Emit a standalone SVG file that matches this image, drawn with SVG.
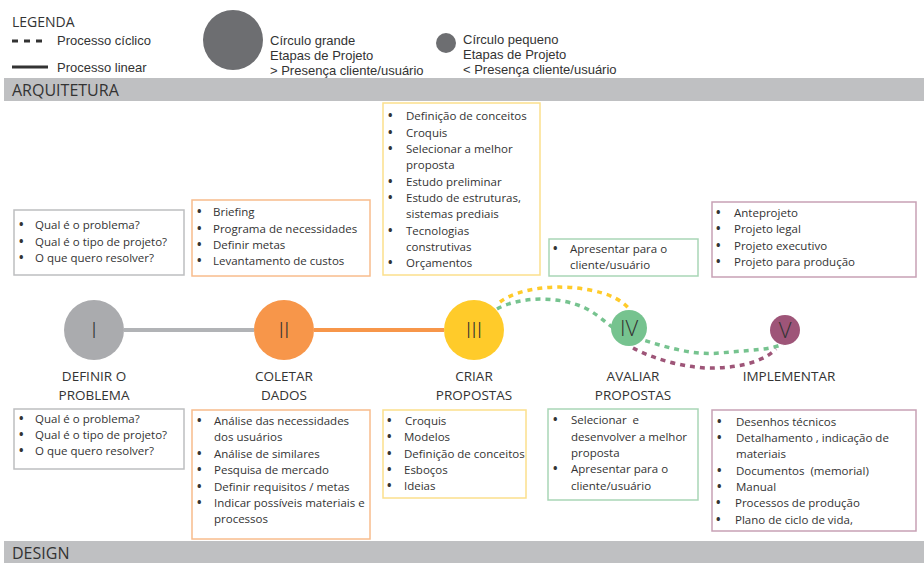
<svg xmlns="http://www.w3.org/2000/svg" width="924" height="563" viewBox="0 0 924 563">
<style>
.leg{font-family:"Liberation Sans",Arial,sans-serif;font-size:13px;fill:#333}
.hd{font-family:"Open Sans","Noto Sans",sans-serif;font-size:16px;fill:#333}
.t{font-family:"Open Sans","Noto Sans",sans-serif;font-size:11.5px;fill:#333}
.b{font-weight:bold;font-size:12px}
.lb{font-family:"Open Sans","Noto Sans",sans-serif;font-size:13.5px;fill:#333;text-anchor:middle}
.num{font-family:"Open Sans","Noto Sans",sans-serif;font-size:22px;font-weight:300;fill:#333;text-anchor:middle}
.band{fill:#BFC0C2}
.box{fill:#fff;stroke-width:1.5}
.gy{stroke:#BDBEC0}.or{stroke:#F8BC8C}.ye{stroke:#FBDF8C}.gr{stroke:#A9D6B6}.pu{stroke:#C7A1B5}
.dash{fill:none;stroke-width:3.5;stroke-dasharray:5 5}
</style>
<rect width="924" height="563" fill="#fff"/>
<g id="legend">
<text x="12" y="27" class="hd" style="font-size:14px">LEGENDA</text>
<line x1="12" y1="41" x2="48" y2="41" stroke="#333" stroke-width="3" stroke-dasharray="6 6"/>
<text x="57" y="45" class="leg">Processo cíclico</text>
<line x1="12" y1="67" x2="48" y2="67" stroke="#333" stroke-width="3"/>
<text x="57" y="72" class="leg">Processo linear</text>
<circle cx="233" cy="40" r="30" fill="#6D6E71"/>
<text class="leg"><tspan x="270" y="45">Círculo grande</tspan><tspan x="270" y="60">Etapas de Projeto</tspan><tspan x="270" y="75">&gt; Presença cliente/usuário</tspan></text>
<circle cx="446" cy="43" r="10" fill="#6D6E71"/>
<text class="leg"><tspan x="463" y="44">Círculo pequeno</tspan><tspan x="463" y="59">Etapas de Projeto</tspan><tspan x="463" y="74">&lt; Presença cliente/usuário</tspan></text>
</g>
<g id="band-arquitetura"><rect x="4" y="78" width="920" height="23" class="band"/><text x="12" y="96" class="hd">ARQUITETURA</text></g>
<g id="band-design"><rect x="4" y="541" width="920" height="22" class="band"/><text x="12" y="559" class="hd">DESIGN</text></g>

<g id="connectors">
<line x1="124" y1="330" x2="254" y2="330" stroke="#B1B3B6" stroke-width="4"/>
<line x1="314" y1="330" x2="444" y2="330" stroke="#F7964A" stroke-width="4"/>
<path class="dash" stroke="#FFCB2A" d="M500,302 C520,287 560,284 590,290 C610,294 622,300 630,310"/>
<path class="dash" stroke="#76C38F" d="M497,309 C520,296 560,296 585,308 C605,318 610,330 630,336 C660,345 690,356 720,353 C750,350 770,350 783,344"/>
<path class="dash" stroke="#9E5578" d="M633,348 C655,360 690,369 715,368 C745,367 765,360 776,349"/>
</g>

<g id="node-1"><circle cx="94" cy="330" r="30" fill="#AAABAE"/><text x="94" y="338" class="num">I</text>
<text class="lb"><tspan x="94" y="381">DEFINIR O</tspan><tspan x="94" y="400">PROBLEMA</tspan></text></g>
<g id="node-2"><circle cx="284" cy="330" r="30" fill="#F7964A"/><text x="284" y="338" class="num">II</text>
<text class="lb"><tspan x="284" y="381">COLETAR</tspan><tspan x="284" y="400">DADOS</tspan></text></g>
<g id="node-3"><circle cx="474" cy="330" r="30" fill="#FFCB2A"/><text x="474" y="338" class="num">III</text>
<text class="lb"><tspan x="474" y="381">CRIAR</tspan><tspan x="474" y="400">PROPOSTAS</tspan></text></g>
<g id="node-4"><circle cx="629" cy="328" r="18" fill="#76C38F"/><text x="629" y="336" class="num">IV</text>
<text class="lb"><tspan x="633" y="381">AVALIAR</tspan><tspan x="633" y="400">PROPOSTAS</tspan></text></g>
<g id="node-5"><circle cx="785" cy="330" r="15" fill="#9E5578"/><text x="785" y="338" class="num">V</text>
<text class="lb"><tspan x="789" y="381">IMPLEMENTAR</tspan></text></g>

<g id="box-a1"><rect x="14" y="210" width="170" height="65" class="box gy"/>
<text class="t"><tspan x="19" y="229" class="b">•</tspan><tspan x="35" y="229">Qual é o problema?</tspan><tspan x="19" y="246" class="b">•</tspan><tspan x="35" y="246">Qual é o tipo de projeto?</tspan><tspan x="19" y="262" class="b">•</tspan><tspan x="35" y="262">O que quero resolver?</tspan></text></g>
<g id="box-a2"><rect x="192" y="200" width="178" height="76" class="box or"/>
<text class="t"><tspan x="197" y="216" class="b">•</tspan><tspan x="213" y="216">Briefing</tspan><tspan x="197" y="233" class="b">•</tspan><tspan x="213" y="233">Programa de necessidades</tspan><tspan x="197" y="249" class="b">•</tspan><tspan x="213" y="249">Definir metas</tspan><tspan x="197" y="265" class="b">•</tspan><tspan x="213" y="265">Levantamento de custos</tspan></text></g>
<g id="box-a3"><rect x="383" y="103" width="157" height="172" class="box ye"/>
<text class="t"><tspan x="388" y="120" class="b">•</tspan><tspan x="406" y="120">Definição de conceitos</tspan><tspan x="388" y="137" class="b">•</tspan><tspan x="406" y="137">Croquis</tspan><tspan x="388" y="153" class="b">•</tspan><tspan x="406" y="153">Selecionar a melhor</tspan><tspan x="406" y="169">proposta</tspan><tspan x="388" y="186" class="b">•</tspan><tspan x="406" y="186">Estudo preliminar</tspan><tspan x="388" y="202" class="b">•</tspan><tspan x="406" y="202">Estudo de estruturas,</tspan><tspan x="406" y="218">sistemas prediais</tspan><tspan x="388" y="235" class="b">•</tspan><tspan x="406" y="235">Tecnologias</tspan><tspan x="406" y="251">construtivas</tspan><tspan x="388" y="267" class="b">•</tspan><tspan x="406" y="267">Orçamentos</tspan></text></g>
<g id="box-a4"><rect x="549" y="239" width="149" height="37" class="box gr"/>
<text class="t"><tspan x="553" y="253" class="b">•</tspan><tspan x="570" y="253">Apresentar para o</tspan><tspan x="570" y="269">cliente/usuário</tspan></text></g>
<g id="box-a5"><rect x="712" y="202" width="204" height="75" class="box pu"/>
<text class="t"><tspan x="716" y="217" class="b">•</tspan><tspan x="734" y="217">Anteprojeto</tspan><tspan x="716" y="233" class="b">•</tspan><tspan x="734" y="233">Projeto legal</tspan><tspan x="716" y="250" class="b">•</tspan><tspan x="734" y="250">Projeto executivo</tspan><tspan x="716" y="266" class="b">•</tspan><tspan x="734" y="266">Projeto para produção</tspan></text></g>

<g id="box-d1"><rect x="14" y="409" width="170" height="60" class="box gy"/>
<text class="t"><tspan x="19" y="423" class="b">•</tspan><tspan x="35" y="423">Qual é o problema?</tspan><tspan x="19" y="439" class="b">•</tspan><tspan x="35" y="439">Qual é o tipo de projeto?</tspan><tspan x="19" y="455" class="b">•</tspan><tspan x="35" y="455">O que quero resolver?</tspan></text></g>
<g id="box-d2"><rect x="192" y="410" width="178" height="129" class="box or"/>
<text class="t"><tspan x="197" y="425" class="b">•</tspan><tspan x="214" y="425">Análise das necessidades</tspan><tspan x="214" y="441">dos usuários</tspan><tspan x="197" y="458" class="b">•</tspan><tspan x="214" y="458">Análise de similares</tspan><tspan x="197" y="474" class="b">•</tspan><tspan x="214" y="474">Pesquisa de mercado</tspan><tspan x="197" y="491" class="b">•</tspan><tspan x="214" y="491">Definir requisitos / metas</tspan><tspan x="197" y="507" class="b">•</tspan><tspan x="214" y="507">Indicar possíveis materiais e</tspan><tspan x="214" y="523">processos</tspan></text></g>
<g id="box-d3"><rect x="383" y="410" width="143" height="88" class="box ye"/>
<text class="t"><tspan x="387" y="425" class="b">•</tspan><tspan x="405" y="425">Croquis</tspan><tspan x="387" y="441" class="b">•</tspan><tspan x="404" y="441">Modelos</tspan><tspan x="387" y="458" class="b">•</tspan><tspan x="404" y="458">Definição de conceitos</tspan><tspan x="387" y="474" class="b">•</tspan><tspan x="404" y="474">Esboços</tspan><tspan x="387" y="490" class="b">•</tspan><tspan x="404" y="490">Ideias</tspan></text></g>
<g id="box-d4"><rect x="548" y="409" width="150" height="91" class="box gr"/>
<text class="t"><tspan x="553" y="424" class="b">•</tspan><tspan x="571" y="424" xml:space="preserve">Selecionar  e</tspan><tspan x="571" y="441">desenvolver a melhor</tspan><tspan x="571" y="457">proposta</tspan><tspan x="553" y="473" class="b">•</tspan><tspan x="571" y="473">Apresentar para o</tspan><tspan x="571" y="490">cliente/usuário</tspan></text></g>
<g id="box-d5"><rect x="712" y="410" width="204" height="121" class="box pu"/>
<text class="t"><tspan x="717" y="426" class="b">•</tspan><tspan x="736" y="426">Desenhos técnicos</tspan><tspan x="717" y="442" class="b">•</tspan><tspan x="736" y="442">Detalhamento , indicação de</tspan><tspan x="736" y="458">materiais</tspan><tspan x="717" y="475" class="b">•</tspan><tspan x="736" y="475" xml:space="preserve">Documentos  (memorial)</tspan><tspan x="717" y="491" class="b">•</tspan><tspan x="736" y="491">Manual</tspan><tspan x="716" y="507" class="b">•</tspan><tspan x="735" y="507">Processos de produção</tspan><tspan x="716" y="524" class="b">•</tspan><tspan x="735" y="524">Plano de ciclo de vida,</tspan></text></g>
</svg>
